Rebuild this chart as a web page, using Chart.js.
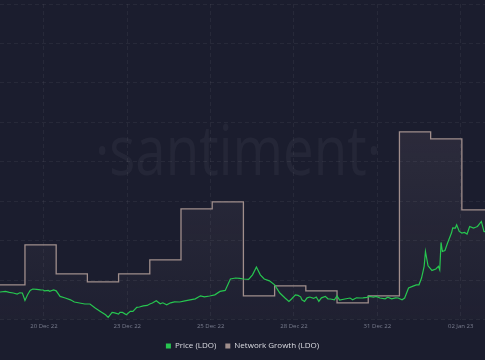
<!DOCTYPE html>
<html><head><meta charset="utf-8">
<script src="https://cdn.jsdelivr.net/npm/chart.js@4.4.1/dist/chart.umd.min.js"></script>
<style>html,body{margin:0;padding:0;background:#1b1d2e;overflow:hidden}</style>
</head><body>
<canvas id="c" width="485" height="360"></canvas>
<script>
// Network growth (daily, step) — hours offset from 20 Dec 2022 00:00
const ngHours = [-24,0,24,48,72,96,120,144,168,192,216,240,264,288,312,336,360];
const ngValues = [35,75,46,38,46,60,111,118,24,34,29,17,24,188,181,110,110];

// Price (LDO, USD) — hours offset from 20 Dec 2022 00:00
const priceHours = [-20,
  -19,-15,-12,-9,-6,-4,-2,0,2,4,
  6,9,12,14,15,18,19,22,24,27,
  31,35,38,42,46,50,54,58,62,64,
  67,69,72,73,75,78,81,83,86,88,
  91,94,96,98,101,104,106,109,112,115,
  119,123,127,131,135,138,142,146,150,154,
  158,162,165,168,172,175,178,181,184,188,
  192,196,200,203,205,208,210,212,213,215,
  217,219,222,224,226,228,231,233,235,238,
  240,242,246,250,252,255,258,260,263,265,
  268,270,273,277,279,282,285,287,290,292,
  295,298,301,303,305,307,308,310,313,316,
  318,319,320,321,323,325,328,329,331,332,
  334,336,338,340,342,345,347,348,351,353,
  355];
const priceValues = [0.939,
  0.939,0.942,0.937,0.934,0.929,0.935,0.934,0.897,0.925,0.947,
  0.954,0.952,0.950,0.949,0.945,0.947,0.943,0.950,0.945,0.917,
  0.909,0.900,0.889,0.884,0.879,0.879,0.859,0.842,0.825,0.812,
  0.837,0.835,0.829,0.837,0.837,0.825,0.842,0.842,0.862,0.864,
  0.870,0.872,0.879,0.884,0.895,0.880,0.885,0.875,0.885,0.890,
  0.889,0.895,0.900,0.905,0.920,0.915,0.919,0.925,0.942,0.947,
  1.004,1.009,1.007,1.004,1.002,1.025,1.064,1.025,1.004,0.995,
  0.975,0.934,0.909,0.892,0.904,0.925,0.922,0.915,0.900,0.892,
  0.910,0.914,0.907,0.914,0.892,0.910,0.917,0.905,0.904,0.900,
  0.920,0.899,0.904,0.909,0.900,0.910,0.909,0.910,0.912,0.917,
  0.913,0.917,0.909,0.905,0.913,0.905,0.910,0.909,0.900,0.909,
  0.959,0.967,0.975,0.975,1.009,1.067,1.142,1.070,1.047,1.054,
  1.067,1.050,1.187,1.142,1.147,1.184,1.234,1.260,1.259,1.275,
  1.242,1.234,1.237,1.229,1.267,1.259,1.264,1.267,1.292,1.242,
  1.240];

// X axis ticks
const tickHours = [14.6,78.7,142.8,206.9,271.0,335.1];
const tickLabels = ['20 Dec 22','23 Dec 22','25 Dec 22','28 Dec 22','31 Dec 22','02 Jan 23'];

const seriesNames = ['Price (LDO)','Network Growth (LDO)'];
const GREEN = '#27c650';
const NG = '#a08e8c';
const GRID = 'rgba(255,255,255,0.055)';

const watermark = {
  id: 'wm',
  beforeDatasetsDraw(chart) {
    const ctx = chart.ctx;
    ctx.save();
    ctx.font = "400 70px 'Open Sans'";
    ctx.fillStyle = 'rgba(255,255,255,0.045)';
    ctx.textAlign = 'center';
    ctx.textBaseline = 'alphabetic';
    const text = '·santiment·';
    const w = ctx.measureText(text).width;
    ctx.translate(238, 175);
    ctx.scale(286 / w, 1);
    ctx.fillText(text, 0, 0);
    ctx.restore();
  }
};

new Chart(document.getElementById('c'), {
  type: 'line',
  data: {
    datasets: [
      {
        label: seriesNames[0],
        data: priceHours.map((h, i) => ({x: h, y: priceValues[i]})),
        yAxisID: 'y',
        borderColor: GREEN,
        backgroundColor: GREEN,
        borderWidth: 1.2,
        pointRadius: 0,
        tension: 0,
        fill: false
      },
      {
        label: seriesNames[1],
        data: ngHours.map((h, i) => ({x: h, y: ngValues[i]})),
        yAxisID: 'y2',
        borderColor: NG,
        borderWidth: 1.3,
        pointRadius: 0,
        stepped: 'before',
        fill: 'start',
        backgroundColor: (c) => {
          const ca = c.chart.chartArea;
          if (!ca) return 'rgba(0,0,0,0)';
          const g = c.chart.ctx.createLinearGradient(0, ca.top, 0, ca.bottom);
          g.addColorStop(0, 'rgba(175,155,165,0.17)');
          g.addColorStop(1, 'rgba(175,155,165,0.03)');
          return g;
        }
      }
    ]
  },
  options: {
    responsive: false,
    animation: false,
    devicePixelRatio: 1,
    layout: {padding: {top: 4, left: 0, right: 0, bottom: 0}},
    plugins: {
      tooltip: {enabled: false},
      legend: {
        position: 'bottom',
        labels: {
          boxWidth: 5, boxHeight: 5, padding: 9,
          color: '#dcdde3',
          font: {family: "'Open Sans', sans-serif", size: 8},
          generateLabels: (chart) => chart.data.datasets.map((d, i) => ({
            text: d.label,
            fillStyle: i === 0 ? GREEN : NG,
            strokeStyle: i === 0 ? GREEN : NG,
            lineWidth: 0,
            fontColor: '#dcdde3',
            datasetIndex: i
          }))
        }
      }
    },
    scales: {
      x: {
        type: 'linear',
        min: -19.2, max: 353.8,
        afterBuildTicks: (axis) => { axis.ticks = tickHours.map(v => ({value: v})); },
        ticks: {
          autoSkip: false, maxRotation: 0, padding: 3,
          color: '#7a7e8f',
          font: {family: "'Open Sans', sans-serif", size: 6},
          callback: (v, i) => tickLabels[i]
        },
        grid: {color: GRID, drawTicks: false},
        border: {display: false, dash: [4, 3]}
      },
      y: {
        position: 'left',
        min: 0.80, max: 2.38,
        afterBuildTicks: (axis) => {
          const t = [];
          for (let k = 0; k <= 8; k++) t.push({value: axis.min + (axis.max - axis.min) * k / 8});
          axis.ticks = t;
        },
        ticks: {display: false},
        grid: {color: GRID, drawTicks: false},
        border: {display: false, dash: [4, 3]}
      },
      y2: {
        display: false,
        min: 0, max: 316
      }
    }
  },
  plugins: [watermark]
});
</script>
</body></html>
